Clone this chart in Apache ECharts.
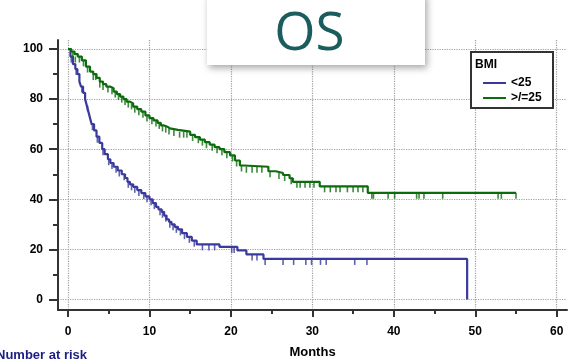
<!DOCTYPE html>
<html><head><meta charset="utf-8">
<script src="https://cdn.jsdelivr.net/npm/echarts@6/dist/echarts.min.js"></script>
<style>html,body{margin:0;padding:0;background:#fff}#c{width:572px;height:359px}</style>
</head><body><div id="c"></div>
<script>
// ---- tick labels ----
const xMajorTicks = [0, 10, 20, 30, 40, 50, 60];
const xMinorTicks = [5, 15, 25, 35, 45, 55];
const yMajorTicks = [0, 20, 40, 60, 80, 100];
const yMinorTicks = [10, 30, 50, 70, 90];
const legendNames = ['<25', '>/=25'];

// ---- BMI <25 : Kaplan-Meier steps (months, % surviving) ----
const blueTime = [0, 0.3, 0.6, 0.9, 1.15, 1.4, 1.6, 1.85, 2.1, 2.3, 2.5, 2.7, 2.9, 3.2, 3.5, 3.85, 4.2, 4.5, 4.9, 5.2, 5.6, 6.1, 6.6, 7.0, 7.3, 7.6, 8.0, 8.5, 9.0, 9.5, 10.0, 10.4, 10.8, 11.1, 11.5, 11.8, 12.1, 12.4, 12.7, 13.1, 13.5, 14.0, 14.6, 15.2, 15.8, 18.6, 20.8, 21.9, 24.0, 49.0];
const blueSurv = [100, 97, 94, 92, 90, 87, 85, 82.5, 80, 77.5, 75, 72.5, 70, 67.5, 65, 62.5, 60, 58, 56, 54.5, 53, 51.5, 50, 48.5, 47, 46, 45, 43.7, 42.5, 41.2, 40, 38.5, 37, 36, 35, 33.5, 32, 31, 30, 29, 28, 26.5, 25, 23.5, 22, 21, 19.6, 18.0, 16.2, 0];
const blueCensorTime = [0.4, 1.0, 1.7, 2.4, 3.0, 3.6, 4.3, 5.0, 5.4, 5.9, 6.3, 6.9, 7.4, 7.8, 8.2, 8.7, 9.3, 9.7, 10.2, 10.6, 11.3, 11.6, 12.0, 12.5, 12.9, 13.3, 13.8, 14.3, 14.9, 15.5, 16.5, 17.3, 18.0, 20.1, 20.4, 22.6, 23.2, 24.2, 26.4, 27.7, 29.2, 29.9, 31.0, 31.7, 35.2, 36.7];
const blueCensorSurv = [97, 92, 85, 77.5, 70, 65, 60, 56, 54.5, 53, 51.5, 50, 47, 46, 45, 43.7, 42.5, 41.2, 40, 38.5, 36, 35, 33.5, 31, 30, 29, 28, 26.5, 25, 23.5, 22, 22, 22, 21, 21, 18, 18, 16.2, 16.2, 16.2, 16.2, 16.2, 16.2, 16.2, 16.2, 16.2];

// ---- BMI >/=25 : Kaplan-Meier steps ----
const greenTime = [0, 0.4, 0.8, 1.2, 1.7, 2.2, 2.7, 3.1, 3.5, 3.9, 4.3, 4.7, 5.15, 5.6, 6.0, 6.4, 6.8, 7.2, 7.6, 8.0, 8.5, 9.0, 9.5, 10.0, 10.5, 11.0, 11.4, 11.8, 12.2, 12.5, 13.5, 15.0, 15.6, 16.2, 16.8, 17.4, 18.0, 18.6, 19.2, 19.9, 20.5, 21.1, 21.6, 24.6, 25.5, 26.4, 27.2, 27.6, 30.9, 36.8, 55.0];
const greenSurv = [100, 99, 98, 97, 95.5, 93, 91, 90, 88.5, 87, 86, 85, 84.3, 83, 82, 81, 80, 79, 78.3, 77, 76, 75, 73.5, 72.4, 71.5, 70.5, 69.5, 69, 68.3, 67.7, 67, 65.7, 64.8, 63.8, 62.8, 61.8, 60.8, 60, 58.8, 57.5, 55.5, 53.5, 53, 51.2, 50.5, 49.7, 48.4, 47, 45.2, 42.6, 42.6];
const greenCensorTime = [0.6, 0.9, 1.4, 1.9, 2.4, 3.1, 3.4, 3.9, 4.3, 4.9, 5.4, 5.8, 6.2, 6.6, 7.0, 7.4, 7.8, 8.2, 8.7, 9.2, 9.7, 10.3, 10.8, 11.2, 11.6, 12.0, 12.4, 13.0, 13.7, 14.2, 14.6, 15.3, 16.0, 16.5, 17.0, 17.7, 18.3, 18.9, 19.5, 20.2, 20.7, 21.3, 21.9, 22.6, 23.2, 23.8, 24.8, 25.9, 26.6, 27.4, 28.1, 28.5, 29.1, 29.7, 30.2, 31.5, 32.2, 32.9, 33.4, 34.3, 35.0, 35.6, 36.2, 37.3, 37.5, 39.3, 40.1, 42.8, 43.1, 43.7, 46.0, 52.8, 53.2, 55.0];
const greenCensorSurv = [99, 97, 97, 95.5, 93, 90, 90, 87, 86, 85, 84.3, 83, 82, 81, 80, 79, 78.3, 77, 76, 75, 73.5, 72.4, 71.5, 70.5, 69.5, 69, 68.3, 67.7, 67, 67, 67, 65.7, 64.8, 63.8, 62.8, 61.8, 60.8, 60, 58.8, 57.5, 55.5, 53.5, 53, 53, 53, 53, 51.2, 50.5, 49.7, 48.4, 47, 47, 47, 47, 47, 45.2, 45.2, 45.2, 45.2, 45.2, 45.2, 45.2, 45.2, 42.6, 42.6, 42.6, 42.6, 42.6, 42.6, 42.6, 42.6, 42.6, 42.6, 42.6];

const zip = (a, b) => a.map((v, i) => [v, b[i]]);
const BLUE = '#3a3a9e', GREEN = '#0c6b0c', AXIS = '#333';
const FONT = '"Liberation Sans", Arial, Helvetica, sans-serif';
const X_MIN = -1.228, X_MAX = 61.26, Y_MIN = -4.19, Y_MAX = 103.6;

const gridLine = { show: true, lineStyle: { color: '#a0a0a0', type: 'dotted', width: 1.2 } };
const lbl = { fontFamily: FONT, fontWeight: 'bold', fontSize: 12, color: '#000' };

const chart = echarts.init(document.getElementById('c'));
chart.setOption({
  animation: false,
  backgroundColor: '#fff',
  grid: { left: 58, right: 5, top: 40, bottom: 49, containLabel: false, outerBoundsMode: 'none' },
  xAxis: [
    { type: 'value', min: X_MIN, max: X_MAX, position: 'bottom',
      axisLine: { show: true, onZero: false, lineStyle: { color: AXIS, width: 2 } },
      axisTick: { show: true, customValues: xMajorTicks, length: 7, lineStyle: { color: AXIS, width: 2 } },
      axisLabel: Object.assign({ customValues: xMajorTicks, margin: 16 }, lbl),
      splitLine: gridLine,
      name: 'Months', nameLocation: 'middle', nameGap: 36,
      nameTextStyle: { fontFamily: FONT, fontWeight: 'bold', fontSize: 13, color: '#000' } },
    { type: 'value', min: X_MIN, max: X_MAX, position: 'bottom',
      axisLine: { show: false, onZero: false },
      axisTick: { show: true, customValues: xMinorTicks, length: 4, lineStyle: { color: AXIS, width: 2 } },
      axisLabel: { show: false }, splitLine: { show: false } }
  ],
  yAxis: [
    { type: 'value', min: Y_MIN, max: Y_MAX, position: 'left',
      axisLine: { show: true, onZero: false, lineStyle: { color: AXIS, width: 2 } },
      axisTick: { show: true, customValues: yMajorTicks, length: 9, lineStyle: { color: AXIS, width: 2 } },
      axisLabel: Object.assign({ customValues: yMajorTicks, margin: 15 }, lbl),
      splitLine: gridLine },
    { type: 'value', min: Y_MIN, max: Y_MAX, position: 'left',
      axisLine: { show: false, onZero: false },
      axisTick: { show: true, customValues: yMinorTicks, length: 5, lineStyle: { color: AXIS, width: 2 } },
      axisLabel: { show: false }, splitLine: { show: false } }
  ],
  legend: {
    data: legendNames, orient: 'vertical', left: 478, top: 72, z: 60,
    icon: 'rect', itemWidth: 23, itemHeight: 2, itemGap: 3,
    textStyle: { fontFamily: FONT, fontWeight: 'bold', fontSize: 12, color: '#000' }
  },
  graphic: [
    { type: 'rect', z: 50, shape: { x: 207, y: -6, width: 218, height: 71 },
      style: { fill: '#fff', shadowBlur: 7, shadowOffsetX: 2, shadowOffsetY: 3, shadowColor: 'rgba(0,0,0,0.35)' } },
    { type: 'text', z: 51, x: 309.5, y: 35,
      style: { text: 'OS', fill: '#1b5c5c', font: '53px "Open Sans", sans-serif', textAlign: 'center', textVerticalAlign: 'middle' } },
    { type: 'rect', z: 55, shape: { x: 471, y: 52, width: 82, height: 56 },
      style: { fill: '#fff', stroke: '#333', lineWidth: 2 } },
    { type: 'text', z: 56, x: 475, y: 64.5,
      style: { text: 'BMI', fill: '#000', font: 'bold 12px ' + FONT, textVerticalAlign: 'middle' } },
    { type: 'text', z: 51, x: -4, y: 355,
      style: { text: 'Number at risk', fill: '#1c1c85', font: 'bold 13px ' + FONT, textVerticalAlign: 'middle' } }
  ],
  series: [
    { name: legendNames[0], type: 'line', step: 'end', data: zip(blueTime, blueSurv), showSymbol: false,
      lineStyle: { color: BLUE, width: 2.2 }, itemStyle: { color: BLUE }, z: 3, silent: true },
    { name: legendNames[1], type: 'line', step: 'end', data: zip(greenTime, greenSurv), showSymbol: false,
      lineStyle: { color: GREEN, width: 2.2 }, itemStyle: { color: GREEN }, z: 3, silent: true },
    { name: 'censor <25', type: 'scatter', data: zip(blueCensorTime, blueCensorSurv), symbol: 'rect',
      symbolSize: [1.6, 6], symbolOffset: [0, 3], itemStyle: { color: BLUE }, z: 3, silent: true },
    { name: 'censor >/=25', type: 'scatter', data: zip(greenCensorTime, greenCensorSurv), symbol: 'rect',
      symbolSize: [1.6, 6], symbolOffset: [0, 3], itemStyle: { color: GREEN }, z: 3, silent: true }
  ]
});
</script></body></html>
